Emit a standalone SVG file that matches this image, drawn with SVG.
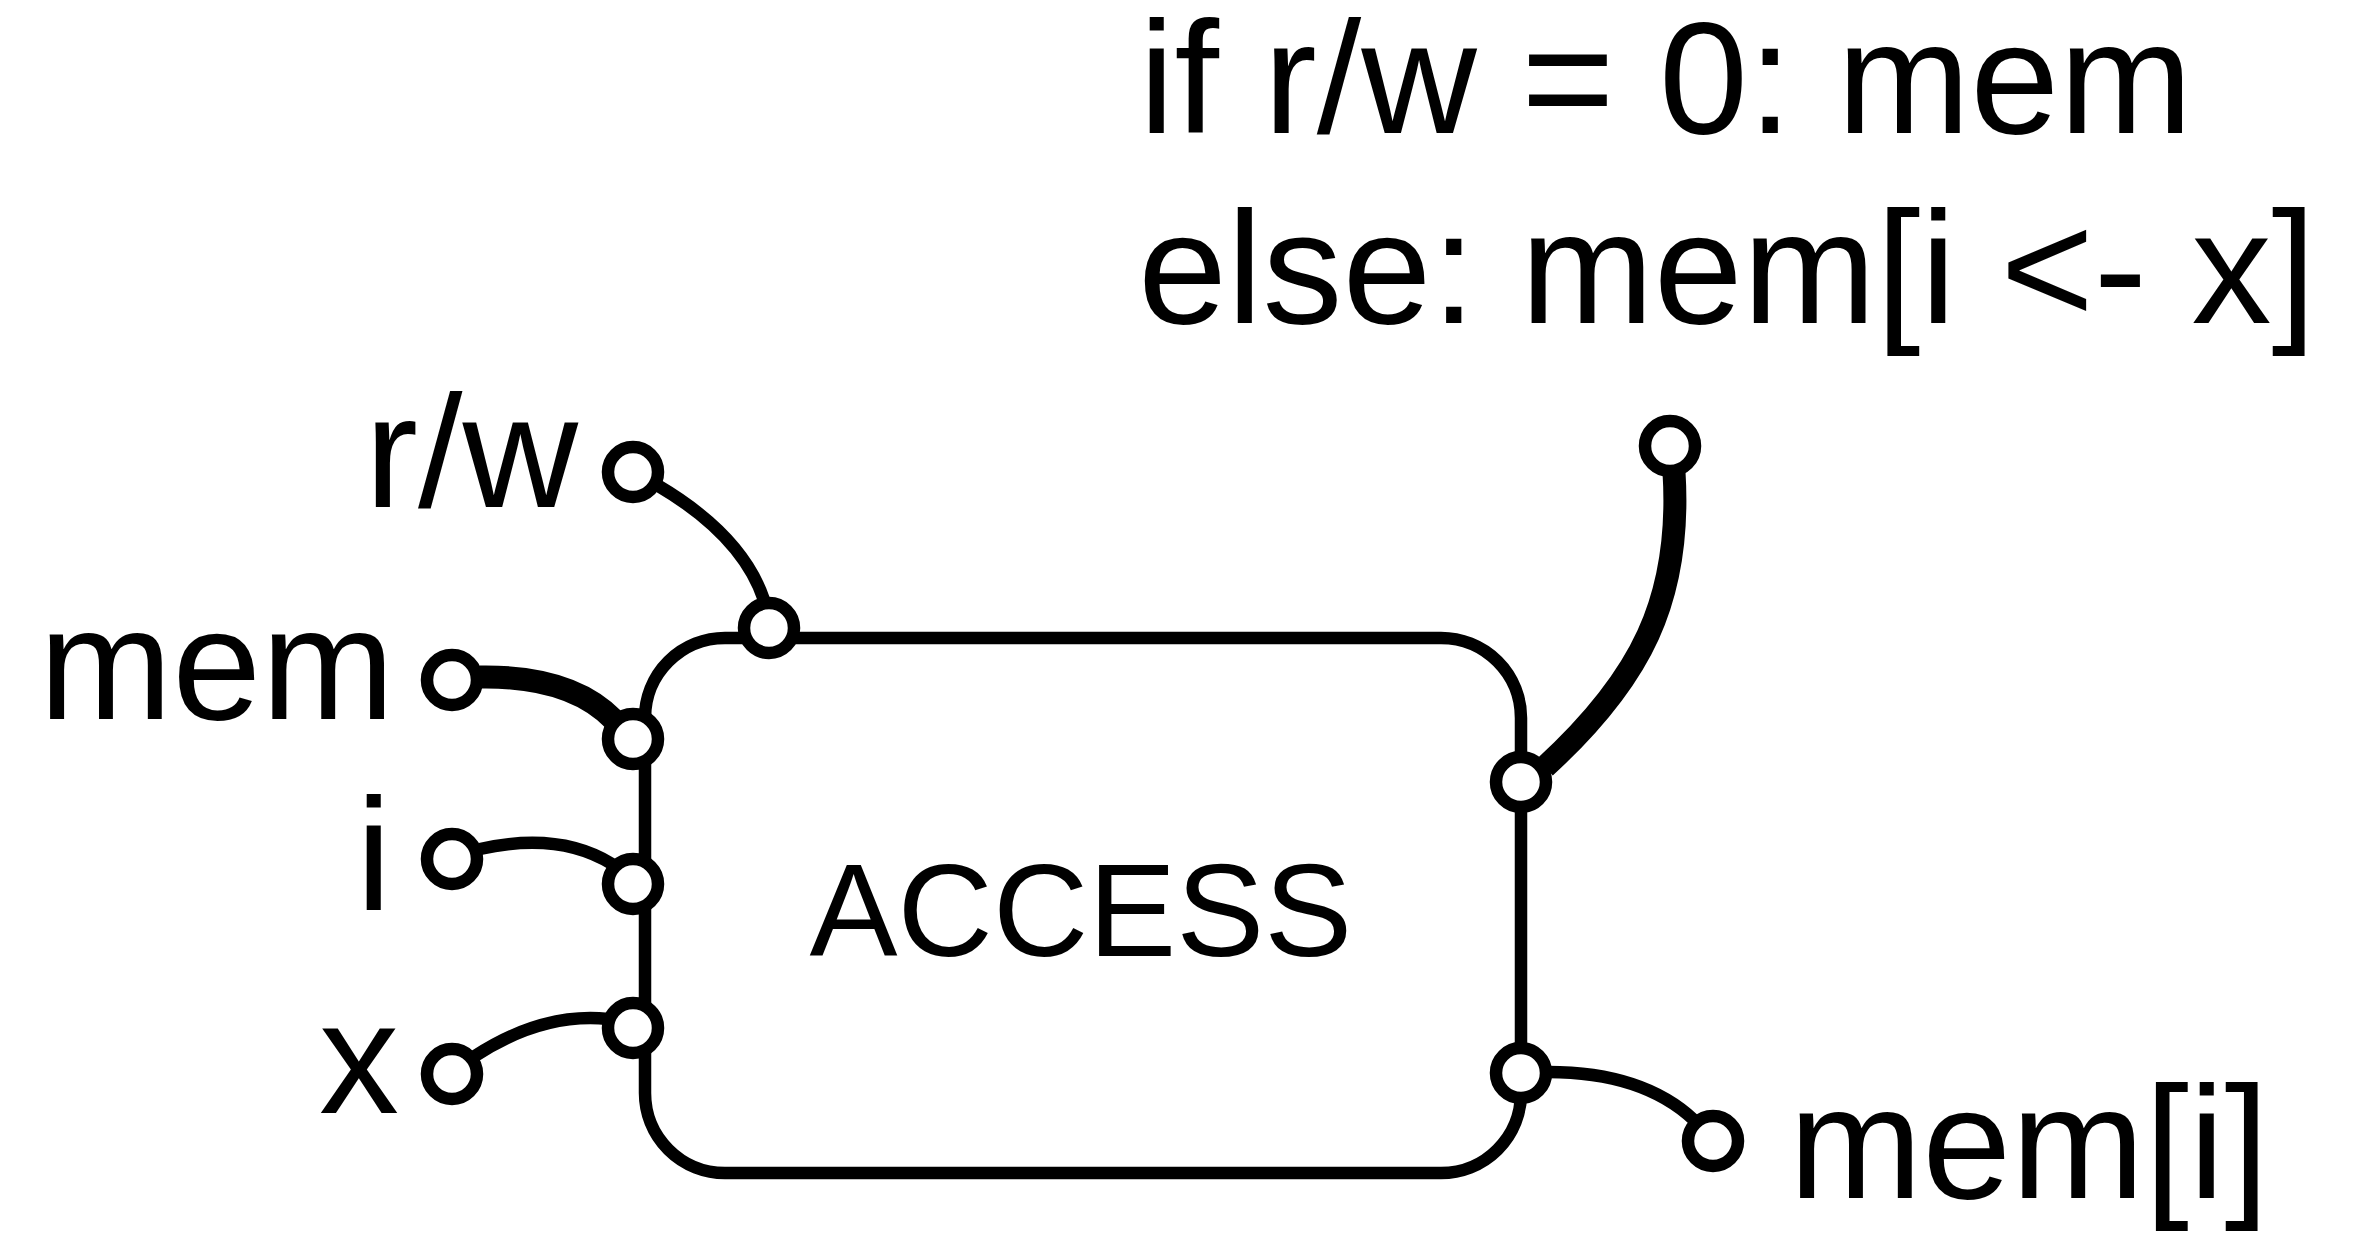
<svg xmlns="http://www.w3.org/2000/svg" width="2356" height="1234" viewBox="0 0 2356 1234">
<style>
  .lbl { font-family: "Liberation Sans", Arial, Helvetica, sans-serif; font-size: 160px; fill: #000; }
  .title { font-family: "Liberation Sans", Arial, Helvetica, sans-serif; font-size: 132px; fill: #000; text-anchor: middle; }
  .box { fill: none; stroke: #000; stroke-width: 12.5; }
  .port { fill: #fff; stroke: #000; stroke-width: 12.5; }
  .wire { fill: none; stroke: #000; stroke-width: 12.5; stroke-linecap: butt; }
  .thick { fill: none; stroke: #000; stroke-width: 23; stroke-linecap: butt; }
</style>
<rect width="2356" height="1234" fill="#fff"/>

<g id="caption">
  <text class="lbl" x="1139" y="133">if r/w = 0: mem</text>
  <text class="lbl" x="1138" y="323">else: mem[i &lt;- x]</text>
</g>

<g id="access-box">
  <rect class="box" x="645" y="638" width="876" height="535" rx="80" ry="80"/>
  <text class="title" x="1081" y="956">ACCESS</text>
</g>

<g id="connectors">
  <path class="wire" d="M 657,485 C 708,515 748,552 764,600"/>
  <path class="thick" d="M 480,677 C 540,676 585,690 614,720"/>
  <path class="wire" d="M 480,849 C 520,840 570,838 612,864"/>
  <path class="wire" d="M 475,1056 C 515,1030 560,1014 608,1019"/>
  <path class="thick" d="M 1674,472 C 1682,600 1640,680 1545,767"/>
  <path class="wire" d="M 1548,1072 C 1610,1072 1660,1088 1694,1120"/>
</g>

<g id="access-ports">
  <circle class="port" cx="769" cy="628" r="25"/>
  <circle class="port" cx="633" cy="739" r="25"/>
  <circle class="port" cx="633" cy="884" r="25"/>
  <circle class="port" cx="633" cy="1028" r="25"/>
  <circle class="port" cx="1521" cy="782" r="25"/>
  <circle class="port" cx="1521" cy="1073" r="25"/>
</g>

<g id="in-rw">
  <circle class="port" cx="633" cy="472" r="25"/>
  <text class="lbl" x="578" y="507" text-anchor="end">r/w</text>
</g>
<g id="in-mem">
  <circle class="port" cx="452" cy="680" r="25"/>
  <text class="lbl" x="39" y="719">mem</text>
</g>
<g id="in-i">
  <circle class="port" cx="452" cy="859" r="25"/>
  <text class="lbl" x="356" y="910">i</text>
</g>
<g id="in-x">
  <circle class="port" cx="452" cy="1074" r="25"/>
  <text class="lbl" x="319" y="1113">x</text>
</g>
<g id="out-mem-new">
  <circle class="port" cx="1670" cy="446" r="25"/>
</g>
<g id="out-memi">
  <circle class="port" cx="1713" cy="1141" r="25"/>
  <text class="lbl" x="1789" y="1198">mem[i]</text>
</g>
</svg>
